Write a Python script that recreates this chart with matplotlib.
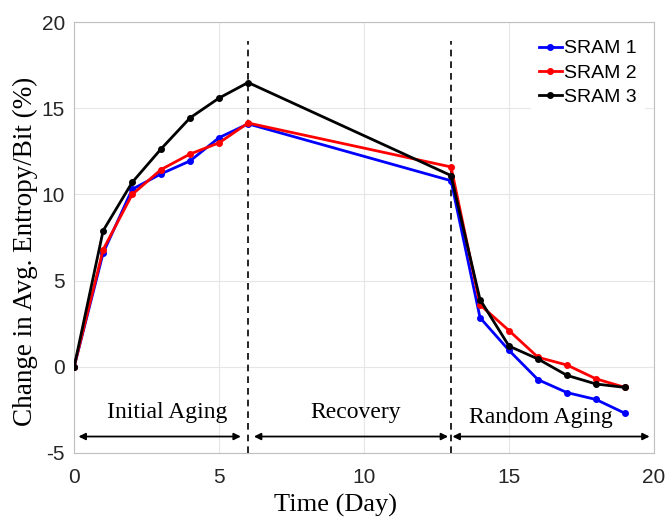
import matplotlib
matplotlib.use("Agg")
import matplotlib.pyplot as plt

plt.rcParams["axes.unicode_minus"] = False

days = [0, 1, 2, 3, 4, 5, 6, 13, 14, 15, 16, 17, 18, 19]
sram1 = [0, 6.6, 10.3, 11.2, 11.95, 13.3, 14.1, 10.8, 2.85, 0.95, -0.75, -1.5, -1.9, -2.7]
sram2 = [0, 6.8, 10.0, 11.45, 12.35, 13.0, 14.15, 11.6, 3.6, 2.1, 0.55, 0.1, -0.7, -1.2]
sram3 = [0, 7.9, 10.7, 12.65, 14.45, 15.6, 16.5, 11.1, 3.9, 1.2, 0.45, -0.5, -1.0, -1.2]
series_names = ["SRAM 1", "SRAM 2", "SRAM 3"]
colors = ["#0000ff", "#ff0000", "#000000"]
phase_bounds = [6, 13]
phase_labels = ["Initial Aging", "Recovery", "Random Aging"]
arrow_spans = [(0.15, 5.75), (6.2, 12.9), (13.05, 19.85)]
label_pos = [(3.2, -2.65), (9.7, -2.65), (16.1, -2.95)]

fig = plt.figure(figsize=(6.68, 5.17), dpi=100)
ax = fig.add_axes([0.111, 0.124, 0.868, 0.833])

for vals, name, c in zip([sram1, sram2, sram3], series_names, colors):
    ax.plot(days, vals, color=c, lw=2, marker="o", ms=4, label=name, zorder=3)

for b in phase_bounds:
    ax.plot([b, b], [-5, 18.9], ls="--", color="black", lw=1.2, dashes=(4, 3), zorder=2)

for (x0, x1) in arrow_spans:
    ax.annotate("", xy=(x1, -4.05), xytext=(x0, -4.05),
                arrowprops=dict(arrowstyle="<|-|>", color="black", lw=1.3,
                                mutation_scale=10, shrinkA=0, shrinkB=0))

for (x, y), t in zip(label_pos, phase_labels):
    ax.text(x, y, t, ha="center", va="center", fontsize=17, family="Liberation Serif")

ax.set_xlim(0, 20)
ax.set_ylim(-5, 20)
ax.set_xticks([0, 5, 10, 15, 20])
ax.set_yticks([-5, 0, 5, 10, 15, 20])
ax.grid(True, color="#e6e6e6", lw=0.8)
ax.set_axisbelow(True)
for s in ax.spines.values():
    s.set_color("#bfbfbf")
ax.tick_params(axis="both", labelsize=15, colors="#262626", length=0)
ax.tick_params(axis="x", pad=11)
ax.tick_params(axis="y", pad=6.5)
for lab in ax.get_xticklabels() + ax.get_yticklabels():
    lab.set_family("Liberation Sans")
    lab.set_color("#262626")

fig.text(336 / 668, 1 - 505 / 517, "Time (Day)", fontsize=19, family="Liberation Serif",
         ha="center", va="center")
fig.text(25 / 668, 1 - 251 / 517, "Change in Avg. Entropy/Bit (%)", fontsize=19.5,
         family="Liberation Serif", ha="center", va="center", rotation=90)

leg = ax.legend(loc="upper right", frameon=True, handlelength=1.18,
                handletextpad=0.12, borderaxespad=0.5, labelspacing=0.35,
                prop={"family": "Liberation Sans", "size": 14})
leg.get_frame().set_edgecolor("white")
leg.get_frame().set_facecolor("white")
leg.get_frame().set_alpha(1)

fig.savefig("out.png", dpi=100)
